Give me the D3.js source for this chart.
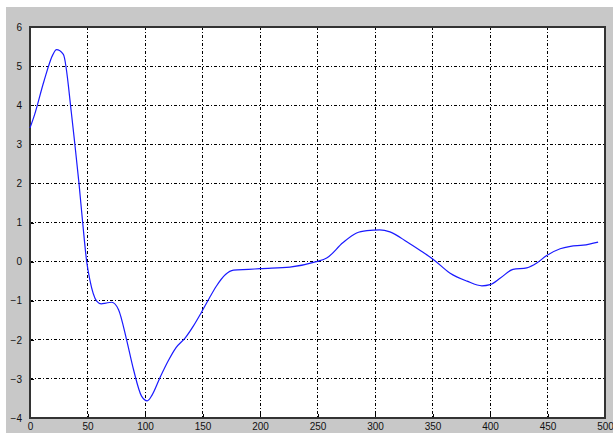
<html lang="en">
  <head>
    <meta charset="UTF-8" />
    <title>Signal</title>
    <script src="https://d3js.org/d3.v7.min.js"></script>
    <style>
      * {
        margin: 0;
        padding: 0;
      }
      body {
        background: #ffffff;
      }
    </style>
  </head>
  <body>
    <div id="svgContainer"></div>
    <script>
      // samples
      let xs = [0, 4, 12, 20, 23, 29, 36, 39, 42.6, 45.8, 49.3, 52, 58, 62, 66, 71, 77, 84, 90, 97,
        102, 106, 113, 120, 127, 135, 142, 149, 156, 162, 170, 177, 190, 200, 226, 249, 258, 272,
        284, 293, 304, 313, 328, 340, 351, 365, 380, 393, 400, 409, 420, 432, 441, 449, 461,
        470, 481, 494];
      let ys = [3.42, 3.76, 4.6, 5.3, 5.42, 5.3, 3.8, 3.0, 2.0, 1.0, 0.0, -0.46, -1.01, -1.08, -1.06, -1.04,
        -1.23, -2.0, -2.76, -3.44, -3.56, -3.42, -2.97, -2.55, -2.2, -1.95, -1.65, -1.3, -0.93, -0.63,
        -0.33, -0.22, -0.2, -0.18, -0.14, 0.0, 0.09, 0.48, 0.73, 0.79, 0.81, 0.76, 0.5,
        0.27, 0.05, -0.29, -0.5, -0.62, -0.59, -0.42, -0.2, -0.16, -0.03, 0.15, 0.33, 0.39, 0.42, 0.5];
      let xTicks = [0, 50, 100, 150, 200, 250, 300, 350, 400, 450, 500];
      let yTicks = [-4, -3, -2, -1, 0, 1, 2, 3, 4, 5, 6];

      let width = 613;
      let height = 433;
      const MARGIN = { left: 30, right: 8, top: 27, bottom: 15 };
      let innerW = width - MARGIN.left - MARGIN.right;
      let innerH = height - MARGIN.top - MARGIN.bottom;

      let svg = d3
        .select("#svgContainer")
        .append("svg")
        .attr("width", width)
        .attr("height", height);

      // grey figure background
      svg.append("rect")
        .attr("x", 6)
        .attr("y", 7)
        .attr("width", width - 6)
        .attr("height", height - 7)
        .attr("fill", "#c8c8c8");

      let g = svg
        .append("g")
        .attr("transform", `translate(${MARGIN.left}, ${MARGIN.top})`);

      let scaleX = d3.scaleLinear().domain([0, 500]).range([0, innerW]);
      let scaleY = d3.scaleLinear().domain([-4, 6]).range([innerH, 0]);

      g.append("rect")
        .attr("width", innerW)
        .attr("height", innerH)
        .attr("fill", "#ffffff");

      // dash-dot grid
      g.selectAll("line.vgrid")
        .data(xTicks.slice(1, -1))
        .join("line")
        .attr("class", "vgrid")
        .attr("x1", (d) => scaleX(d))
        .attr("x2", (d) => scaleX(d))
        .attr("y1", 0)
        .attr("y2", innerH)
        .attr("stroke", "#000")
        .attr("stroke-width", 1)
        .attr("shape-rendering", "crispEdges")
        .attr("stroke-dasharray", "3,2,1,2");

      g.selectAll("line.hgrid")
        .data(yTicks.slice(1, -1))
        .join("line")
        .attr("class", "hgrid")
        .attr("y1", (d) => scaleY(d))
        .attr("y2", (d) => scaleY(d))
        .attr("x1", 0)
        .attr("x2", innerW)
        .attr("stroke", "#000")
        .attr("stroke-width", 1)
        .attr("shape-rendering", "crispEdges")
        .attr("stroke-dasharray", "3,2,1,2");

      // axes: ticks inside, labels outside
      let axisB = d3.axisBottom(scaleX).tickValues(xTicks).tickSizeInner(-4).tickSizeOuter(0).tickPadding(7);
      let axisL = d3.axisLeft(scaleY).tickValues(yTicks).tickSizeInner(-4).tickSizeOuter(0).tickPadding(8);

      let gx = g.append("g").attr("transform", `translate(0, ${innerH})`).call(axisB);
      let gy = g.append("g").call(axisL);
      [gx, gy].forEach((a) => {
        a.select(".domain").remove();
        a.selectAll("line").attr("stroke", "#000").attr("shape-rendering", "crispEdges");
        a.selectAll("text")
          .attr("font-family", "Liberation Sans, Arial, sans-serif")
          .attr("font-size", 10)
          .attr("fill", "#111");
      });
      gx.selectAll("text").attr("dy", "0.45em");

      // frame
      g.append("rect")
        .attr("width", innerW)
        .attr("height", innerH)
        .attr("fill", "none")
        .attr("stroke", "#333")
        .attr("stroke-width", 1.5)
        .attr("shape-rendering", "crispEdges");

      let line = d3
        .line()
        .x((d, i) => scaleX(xs[i]))
        .y((d, i) => scaleY(ys[i]))
        .curve(d3.curveMonotoneX);

      g.append("path")
        .datum(xs)
        .attr("d", line)
        .attr("fill", "none")
        .attr("stroke", "#1a1aff")
        .attr("stroke-width", 1.2);
    </script>
  </body>
</html>
